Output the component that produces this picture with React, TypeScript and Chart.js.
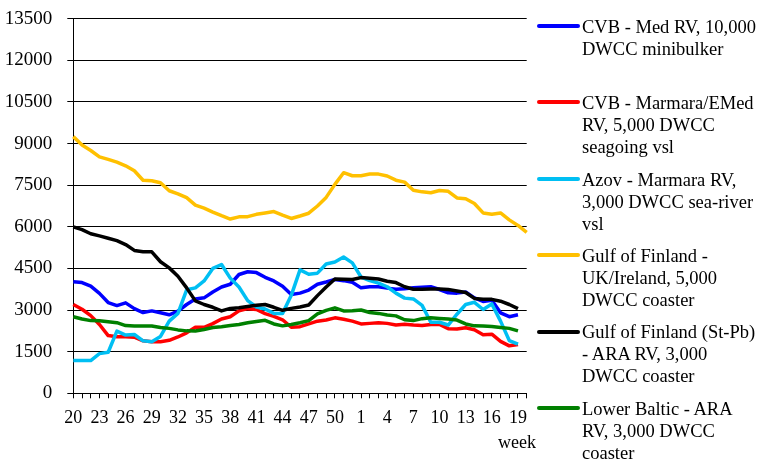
import React, { useEffect, useRef } from 'react';
import { Chart, registerables } from 'chart.js';

Chart.register(...registerables);

// weeks 20..52 of one year, 1..20 of the next (last one only has the coaster series)
const weeks = [
  '20', '21', '22', '23', '24', '25', '26', '27', '28', '29', '30', '31', '32', '33', '34', '35', '36',
  '37', '38', '39', '40', '41', '42', '43', '44', '45', '46', '47', '48', '49', '50', '51', '52',
  '1', '2', '3', '4', '5', '6', '7', '8', '9', '10', '11', '12', '13', '14', '15', '16', '17', '18', '19', '20',
];

const cvbMed = [
  4020, 3990, 3860, 3600, 3270, 3160, 3260, 3050, 2910, 2970, 2900, 2830, 2960, 3200, 3400, 3440, 3650, 3830,
  3930, 4280, 4380, 4350, 4180, 4050, 3860, 3560, 3610, 3720, 3930, 4010, 4100, 4060, 4000, 3800, 3840, 3840,
  3790, 3750, 3770, 3800, 3820, 3840, 3740, 3620, 3610, 3650, 3440, 3310, 3350, 2900, 2760, 2830,
];
const cvbMarmara = [
  3200, 3030, 2800, 2480, 2080, 2040, 2040, 2020, 1890, 1860, 1860, 1910, 2030, 2180, 2380, 2380, 2510, 2680,
  2760, 2970, 3050, 3020, 2870, 2770, 2650, 2380, 2400, 2500, 2600, 2640, 2720, 2670, 2600, 2500, 2520, 2540,
  2520, 2460, 2490, 2460, 2440, 2480, 2480, 2330, 2320, 2360, 2290, 2110, 2130, 1870, 1710, 1760,
];
const azovMarmara = [
  1180, 1180, 1180, 1430, 1480, 2240, 2100, 2120, 1890, 1860, 2050, 2600, 2880, 3730, 3800, 4050, 4500, 4640,
  4150, 3830, 3340, 3110, 3040, 2880, 2880, 3530, 4450, 4290, 4330, 4660, 4730, 4910, 4700, 4190, 4060, 3970,
  3840, 3610, 3430, 3400, 3170, 2560, 2560, 2460, 2850, 3200, 3280, 3020, 3220, 2600, 1900, 1770,
];
const gofUk = [
  9250, 8950, 8750, 8520, 8430, 8330, 8200, 8020, 7680, 7660, 7590, 7300, 7190, 7050, 6780, 6670, 6530, 6400,
  6280, 6360, 6365, 6450, 6500, 6550, 6420, 6300, 6390, 6490, 6750, 7060, 7530, 7950, 7840, 7840, 7900, 7900,
  7830, 7680, 7610, 7320, 7260, 7230, 7310, 7280, 7040, 7010, 6840, 6500, 6450, 6500, 6250, 6050, 5800,
];
const gofAra = [
  6000, 5900, 5750, 5675, 5590, 5500, 5360, 5150, 5100, 5100, 4740, 4520, 4220, 3800, 3330, 3200, 3100, 2970,
  3060, 3080, 3130, 3170, 3200, 3100, 2990, 3060, 3110, 3180, 3520, 3830, 4120, 4110, 4100, 4170, 4150, 4120,
  4040, 3990, 3840, 3750, 3750, 3760, 3760, 3740, 3690, 3630, 3420, 3390, 3385, 3320, 3200, 3050,
];
const lowerBaltic = [
  2760, 2680, 2620, 2615, 2580, 2545, 2440, 2425, 2425, 2425, 2370, 2340, 2285, 2250, 2245, 2300, 2370, 2400,
  2440, 2480, 2540, 2590, 2630, 2500, 2430, 2480, 2540, 2620, 2860, 2990, 3080, 2970, 2975, 3000, 2910, 2880,
  2820, 2790, 2650, 2620, 2690, 2720, 2700, 2680, 2640, 2500, 2430, 2425, 2405, 2370, 2340, 2250,
];

const series = [
  { lines: ['CVB - Med RV, 10,000', 'DWCC minibulker'], data: cvbMed, color: '#0000FF' },
  { lines: ['CVB - Marmara/EMed', 'RV, 5,000 DWCC', 'seagoing vsl'], data: cvbMarmara, color: '#FF0000' },
  { lines: ['Azov - Marmara RV,', '3,000 DWCC sea-river', 'vsl'], data: azovMarmara, color: '#00BFF3' },
  { lines: ['Gulf of Finland -', 'UK/Ireland, 5,000', 'DWCC coaster'], data: gofUk, color: '#FFC000' },
  { lines: ['Gulf of Finland (St-Pb)', '- ARA RV, 3,000', 'DWCC coaster'], data: gofAra, color: '#000000' },
  { lines: ['Lower Baltic - ARA', 'RV, 3,000 DWCC', 'coaster'], data: lowerBaltic, color: '#008000' },
];

const SERIF = "'Liberation Serif', 'Times New Roman', serif";

const App: React.FC = () => {
  const canvasRef = useRef<HTMLCanvasElement>(null);

  useEffect(() => {
    document.body.style.margin = '0';
    if (!canvasRef.current) return;
    const chart = new Chart(canvasRef.current, {
      type: 'line',
      data: {
        labels: weeks,
        datasets: series.map((s, i) => ({
          label: s.lines.join(' '),
          data: s.data,
          borderColor: s.color,
          backgroundColor: s.color,
          borderWidth: 3.5,
          borderJoinStyle: 'round',
          pointRadius: 0,
          tension: 0,
          order: series.length - i, // later series on top, like Excel
        })),
      },
      options: {
        responsive: true,
        maintainAspectRatio: false,
        animation: false,
        layout: { padding: { top: 18.7, right: 13.3, left: 0, bottom: 0 } },
        plugins: { legend: { display: false }, tooltip: { enabled: false } },
        scales: {
          x: {
            type: 'category',
            grid: { color: '#000', drawOnChartArea: false, drawTicks: true, tickLength: 5 },
            border: { color: '#000', width: 1 },
            ticks: {
              autoSkip: false,
              maxRotation: 0,
              minRotation: 0,
              padding: 9,
              color: '#000',
              font: { family: SERIF, size: 18 },
              callback: (_v: any, idx: number) => (idx % 3 === 0 ? weeks[idx] : ''),
            },
            afterFit: (scale: any) => {
              scale.height = 75.7;
              scale.paddingLeft = 0;
              scale.paddingRight = 0;
            },
          },
          y: {
            min: 0,
            max: 13500,
            grid: { color: '#000', lineWidth: 1, drawTicks: true, tickLength: 6 },
            border: { color: '#000', width: 1 },
            ticks: {
              stepSize: 1500,
              padding: 15,
              color: '#000',
              font: { family: SERIF, size: 19 },
              callback: (v: any) => String(v),
            },
            afterFit: (scale: any) => {
              scale.width = 73.3;
              scale.paddingTop = 0;
              scale.paddingBottom = 0;
            },
          },
        },
      },
    });
    return () => chart.destroy();
  }, []);

  return (
    <div style={{ position: 'relative', width: 766, height: 469, background: '#fff', overflow: 'hidden' }}>
      <div style={{ position: 'absolute', left: 0, top: 0, width: 540, height: 469 }}>
        <canvas ref={canvasRef} />
      </div>
      <div
        style={{
          position: 'absolute',
          right: 766 - 536,
          top: 433.4,
          fontFamily: SERIF,
          fontSize: 18,
          lineHeight: '18px',
          color: '#000',
        }}
      >
        week
      </div>
      {series.map((s, i) => {
        const top = 15.8 + i * 76.4;
        return (
          <div key={i} style={{ position: 'absolute', left: 537, top }}>
            <div
              style={{
                position: 'absolute',
                left: 0,
                top: 17.2 - 9,
                width: 43,
                height: 4,
                background: s.color,
                borderRadius: 2,
              }}
            />
            <div
              style={{
                position: 'absolute',
                left: 45,
                top: 0,
                whiteSpace: 'pre',
                fontFamily: SERIF,
                fontSize: 18.5,
                lineHeight: '22px',
                color: '#000',
              }}
            >
              {s.lines.join('\n')}
            </div>
          </div>
        );
      })}
    </div>
  );
};

export default App;
